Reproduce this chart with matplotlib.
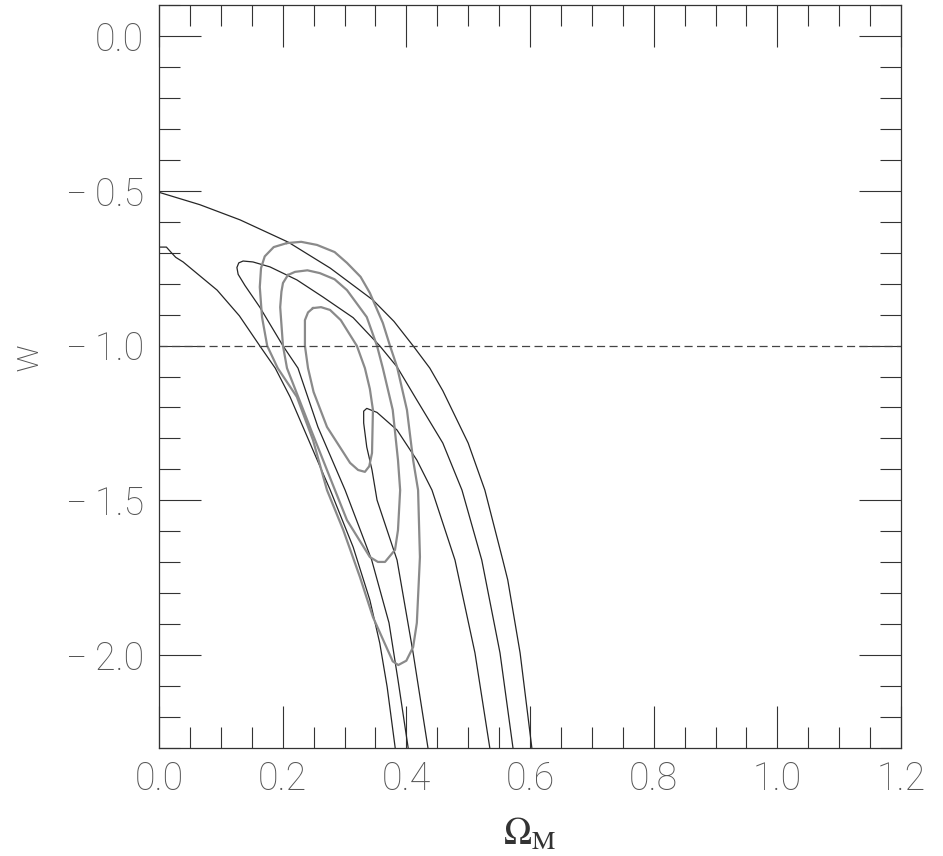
import numpy as np
import matplotlib
matplotlib.use("Agg")
import matplotlib.pyplot as plt
from matplotlib.ticker import MultipleLocator, FixedLocator

plt.rcParams['font.family'] = ['Roboto', 'DejaVu Sans']
plt.rcParams['mathtext.fontset'] = 'stix'

# outer black band (upper and lower edge)
a_om = [0.0, 0.066, 0.131, 0.209, 0.277, 0.346, 0.380, 0.411, 0.438, 0.459, 0.500, 0.527, 0.556, 0.564, 0.584, 0.603]
a_w = [-0.505, -0.545, -0.594, -0.666, -0.750, -0.853, -0.922, -1.001, -1.073, -1.146, -1.315, -1.467, -1.693, -1.757, -1.993, -2.30]
b_om = [0.0, 0.012, 0.020, 0.027, 0.039, 0.094, 0.130, 0.163, 0.188, 0.212, 0.265, 0.277, 0.314, 0.341, 0.357, 0.369, 0.382]
b_w = [-0.682, -0.682, -0.700, -0.715, -0.730, -0.821, -0.904, -1.001, -1.073, -1.166, -1.412, -1.467, -1.651, -1.822, -1.961, -2.103, -2.30]

# middle black contour (open at the bottom)
c_om = [0.403, 0.3865, 0.372, 0.344, 0.301, 0.257, 0.2248, 0.2005, 0.163, 0.139, 0.128, 0.126, 0.129, 0.136,
        0.152, 0.1795, 0.223, 0.265, 0.314, 0.357, 0.385, 0.417, 0.459, 0.490, 0.522, 0.5515, 0.5725]
c_w = [-2.30, -2.08, -1.896, -1.693, -1.467, -1.263, -1.073, -1.001, -0.876, -0.806, -0.770, -0.748, -0.733, -0.727,
       -0.730, -0.746, -0.788, -0.843, -0.910, -1.001, -1.069, -1.176, -1.315, -1.467, -1.693, -1.993, -2.30]

# inner black contour
d_om = [0.435, 0.411, 0.385, 0.3526, 0.3445, 0.336, 0.331, 0.331, 0.336, 0.3526, 0.385, 0.417, 0.4415, 0.4787, 0.511, 0.535]
d_w = [-2.30, -1.993, -1.693, -1.499, -1.402, -1.328, -1.25, -1.212, -1.203, -1.216, -1.273, -1.370, -1.467, -1.693, -1.993, -2.30]

# grey closed contours, inner to outer
g1_om = [0.249, 0.262, 0.2766, 0.294, 0.304, 0.320, 0.333, 0.341, 0.346, 0.3445, 0.340, 0.333, 0.322, 0.309,
         0.2717, 0.250, 0.241, 0.236, 0.236, 0.241, 0.249]
g1_w = [-0.879, -0.876, -0.885, -0.918, -0.950, -1.001, -1.073, -1.14, -1.208, -1.347, -1.39, -1.408, -1.402, -1.379,
        -1.263, -1.15, -1.073, -1.001, -0.918, -0.893, -0.879]

g2_om = [0.2086, 0.220, 0.240, 0.260, 0.284, 0.304, 0.336, 0.3526, 0.362, 0.378, 0.3865, 0.390, 0.3865, 0.3817,
         0.3655, 0.354, 0.341, 0.304, 0.2846, 0.246, 0.207, 0.2005, 0.196, 0.198, 0.2005, 0.2086]
g2_w = [-0.772, -0.762, -0.757, -0.766, -0.786, -0.821, -0.908, -1.001, -1.073, -1.208, -1.370, -1.467, -1.596, -1.660,
        -1.699, -1.699, -1.683, -1.564, -1.467, -1.273, -1.073, -1.001, -0.876, -0.826, -0.798, -0.772]

g3_om = [0.207, 0.230, 0.2555, 0.284, 0.304, 0.326, 0.341, 0.362, 0.3736, 0.385, 0.401, 0.411, 0.419, 0.422, 0.417,
         0.411, 0.400, 0.387, 0.378, 0.346, 0.325, 0.298, 0.2717, 0.249, 0.223, 0.192, 0.175, 0.1666, 0.163, 0.165,
         0.171, 0.1855, 0.207]
g3_w = [-0.669, -0.665, -0.675, -0.698, -0.733, -0.778, -0.830, -0.927, -1.001, -1.069, -1.208, -1.370, -1.467, -1.683,
        -1.896, -1.974, -2.018, -2.032, -2.02, -1.877, -1.748, -1.596, -1.467, -1.305, -1.166, -1.073, -1.001, -0.908,
        -0.811, -0.750, -0.712, -0.682, -0.669]

w_lambda = -1.0

xticks = [0.0, 0.2, 0.4, 0.6, 0.8, 1.0, 1.2]
xticklabels = ["0.0", "0.2", "0.4", "0.6", "0.8", "1.0", "1.2"]
yticks = [0.0, -0.5, -1.0, -1.5, -2.0]
yticklabels = ["0.0", "\u2212\u20090.5", "\u2212\u20091.0", "\u2212\u20091.5", "\u2212\u20092.0"]

fig = plt.figure(figsize=(9.43, 8.56), dpi=100)
ax = fig.add_axes([159/943, 1-748/856, 742/943, 743/856])

black = '#262626'
grey = '#8a8a8a'
for om, w in [(a_om, a_w), (b_om, b_w), (c_om, c_w), (d_om, d_w)]:
    ax.plot(om, w, color=black, lw=0.9, solid_joinstyle='round')
for om, w in [(g1_om, g1_w), (g2_om, g2_w), (g3_om, g3_w)]:
    ax.plot(om, w, color=grey, lw=1.6, solid_joinstyle='round')

# w = -1 reference line
ax.axhline(w_lambda, color='#444444', lw=0.9, ls=(0, (6.5, 3.5)))

ax.set_xlim(0, 1.2)
ax.set_ylim(-2.3, 0.1)

ax.xaxis.set_major_locator(FixedLocator(xticks))
ax.xaxis.set_minor_locator(MultipleLocator(0.05))
ax.yaxis.set_major_locator(FixedLocator(yticks))
ax.yaxis.set_minor_locator(MultipleLocator(0.1))
ax.set_xticklabels(xticklabels)
ax.set_yticklabels(yticklabels)

ax.tick_params(which='both', direction='in', top=True, right=True, color='#333333', width=0.8)
ax.tick_params(which='major', length=30)
ax.tick_params(which='minor', length=15)
ax.tick_params(axis='x', which='major', pad=9)
ax.tick_params(axis='y', which='major', pad=11)
for lab in ax.get_xticklabels() + ax.get_yticklabels():
    lab.set_fontsize(27)
    lab.set_fontweight('light')
    lab.set_color('#555555')

for s in ax.spines.values():
    s.set_linewidth(0.9)
    s.set_color('#333333')

fig.text(530/943, 1-834/856, r'$\Omega_{\rm M}$', fontsize=27, color='#333333', ha='center', va='center')
fig.text(27/943, 1-357/856, 'w', fontsize=27, fontweight='light', color='#555555',
         rotation=90, ha='center', va='center')

fig.savefig('out.png', dpi=100)
